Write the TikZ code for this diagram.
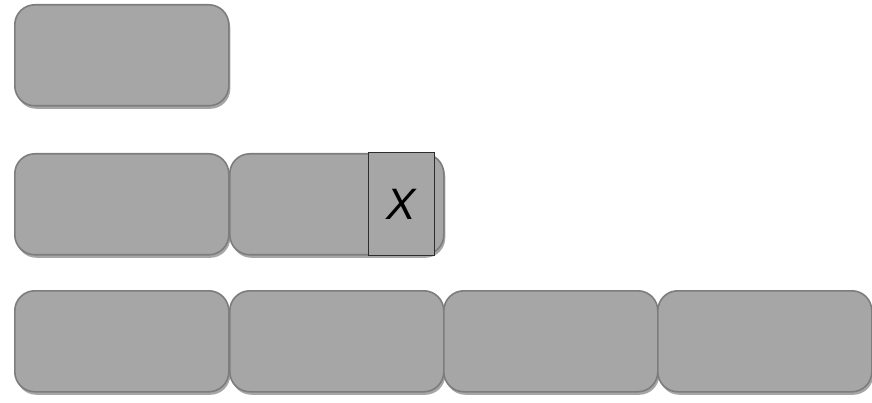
\documentclass[tikz,border=0pt]{standalone}
\usepackage{fontspec}
\setmainfont{Liberation Sans}
\usepackage{xcolor}
\usepackage{tikz}
\usetikzlibrary{positioning, shadows}
\definecolor{blockgray}{RGB}{166,166,166}
\definecolor{blockedge}{RGB}{125,125,125}
\definecolor{markedge}{RGB}{45,45,45}

\begin{document}
\begin{tikzpicture}[x=1pt, y=-1pt,
    block/.style={rectangle, rounded corners=20pt, draw=blockedge, line width=1.6pt, fill=blockgray,
        minimum width=214pt, minimum height=101pt, inner sep=0pt, anchor=north west,
        drop shadow={shadow xshift=1.5pt, shadow yshift=-3pt, opacity=0.35, fill=black}},
    marker/.style={rectangle, draw=markedge, line width=0.8pt, fill=blockgray,
        minimum width=66pt, minimum height=103pt, inner sep=0pt, anchor=north west,
        font=\fontsize{44}{44}\selectfont\itshape}]
    \useasboundingbox (0,0) rectangle (872,403);
    % first row
    \node[block] (r1a) at (14,4) {};
    % second row
    \node[block] (r2a) at (14,153) {};
    \node[block] (r2b) at (229,153) {};
    \node[marker] (x) at (368,152) {X};
    % third row
    \node[block] (r3a) at (14,290) {};
    \node[block] (r3b) at (229,290) {};
    \node[block] (r3c) at (443,290) {};
    \node[block] (r3d) at (657,290) {};
\end{tikzpicture}
\end{document}
